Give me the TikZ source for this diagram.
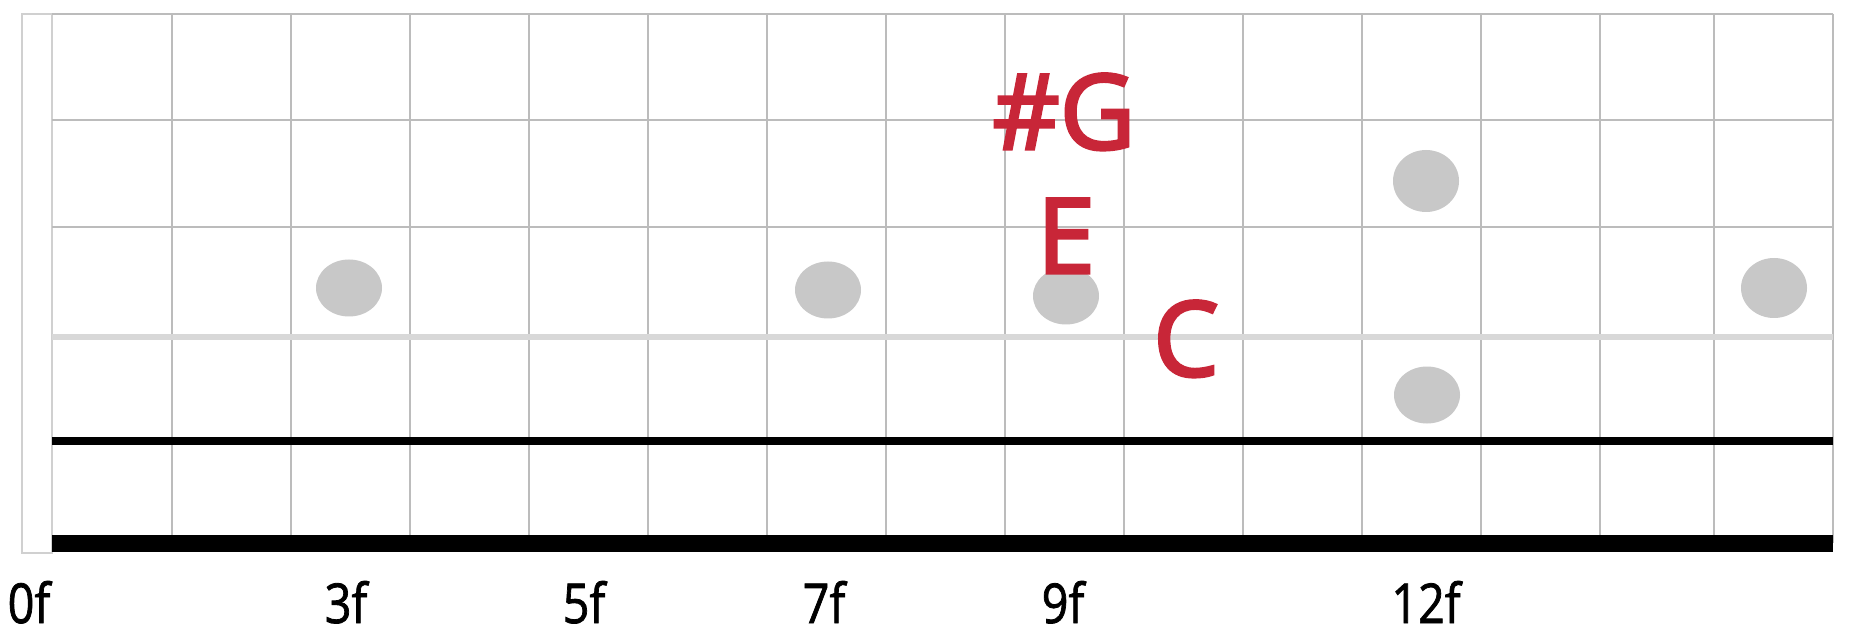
\documentclass[tikz,border=0pt]{standalone}
\usepackage{fontspec}
\setmainfont{Open Sans}
\newfontfamily\notefont{Open Sans}[FakeBold=3]
\newfontfamily\fretfont{Open Sans}[FakeBold=1.5]
\usetikzlibrary{shapes.geometric}
\definecolor{notered}{RGB}{200,38,56}
\definecolor{gridgray}{RGB}{188,188,188}
\definecolor{framegray}{RGB}{208,208,208}
\definecolor{stringgray}{RGB}{216,216,216}
\definecolor{dotgray}{RGB}{200,200,200}
\begin{document}
\begin{tikzpicture}[x=1pt,y=-1pt,
  gridline/.style={draw=gridgray,line width=1.6pt},
  frameline/.style={draw=framegray,line width=1.6pt},
  marker/.style={ellipse,fill=dotgray,draw=none,inner sep=0pt,minimum width=66pt,minimum height=57pt},
  notelabel/.style={anchor=base,text=notered,inner sep=0pt,text depth=0pt,font=\notefont\fontsize{104}{110}\selectfont},
  fretlabel/.style={anchor=base,text=black,inner sep=0pt,text depth=0pt,xscale=0.85,font=\fretfont\fontsize{55}{60}\selectfont}]
\useasboundingbox (0,0) rectangle (1866,636);
\fill[white] (0,0) rectangle (1866,636);
% nut strip
\draw[frameline] (22,14) rectangle (52,553);
% frets
\foreach \x in {172,291,410,529,648,767,886,1005,1124,1243,1362,1481,1600,1714}
  \draw[gridline] (\x,14) -- (\x,543);
\draw[gridline] (1833,14) -- (1833,543);
% thin strings
\foreach \y in {14,120,227}
  \draw[gridline] (52,\y) -- (1833,\y);
\draw[stringgray,line width=6pt] (52,337) -- (1833,337);
\draw[black,line width=8pt] (52,441) -- (1833,441);
\draw[black,line width=17pt] (52,543.5) -- (1833,543.5);
% position markers
\node[marker] (m3) at (349,288) {};
\node[marker] (m7) at (828,290) {};
\node[marker] (m9) at (1066,296) {};
\node[marker,minimum height=62pt] (m12a) at (1426,181) {};
\node[marker] (m12b) at (1427,395) {};
\node[marker,minimum height=60pt] (m15) at (1774,288) {};
% note names
\node[notelabel] (nG) at (1064,149) {\#G};
\node[notelabel] (nE) at (1066,273) {E};
\node[notelabel] (nC) at (1186,376) {C};
% fret numbers
\node[fretlabel] (f0) at (29,623) {0f};
\node[fretlabel] (f3) at (346,623) {3f};
\node[fretlabel] (f5) at (584,623) {5f};
\node[fretlabel] (f7) at (824,623) {7f};
\node[fretlabel] (f9) at (1063,623) {9f};
\node[fretlabel] (f12) at (1426,623) {12f};
\end{tikzpicture}
\end{document}
